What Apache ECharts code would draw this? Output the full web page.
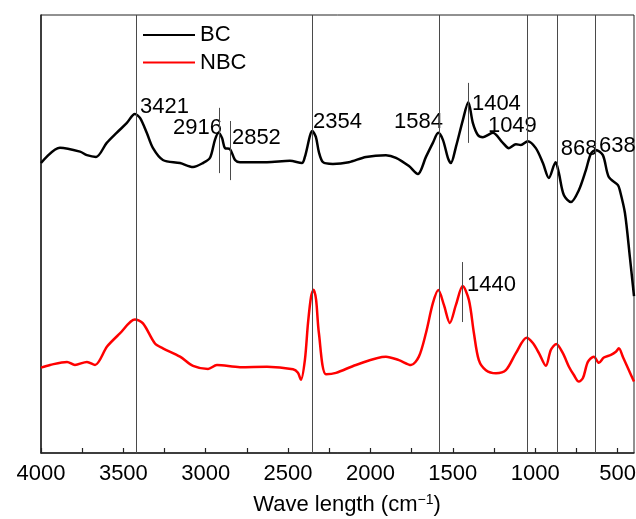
<!DOCTYPE html>
<html>
<head>
<meta charset="utf-8">
<script src="https://cdn.jsdelivr.net/npm/echarts@6/dist/echarts.min.js"></script>
<style>
  html, body { margin: 0; padding: 0; background: #fff; }
  #chart { width: 636px; height: 519px; }
</style>
</head>
<body>
<div id="chart"></div>
<script>
// FTIR spectra of BC and NBC (wavenumber in cm^-1, transmittance in arbitrary units)
const wnBC = [4000, 3885, 3763, 3721, 3666, 3601, 3541, 3480, 3430, 3399, 3358, 3320, 3260, 3156, 3077, 3017, 2974, 2944, 2922, 2901, 2883, 2853, 2822, 2792, 2628, 2489, 2416, 2398, 2352, 2331, 2313, 2288, 2228, 2131, 2027, 1906, 1845, 1766, 1712, 1663, 1621, 1588, 1560, 1530, 1512, 1481, 1439, 1406, 1378, 1348, 1317, 1257, 1196, 1160, 1117, 1087, 1045, 996, 953, 917, 876, 856, 826, 783, 735, 692, 662, 632, 589, 553, 498, 486, 455, 425, 400];
const absBC = [66.2, 69.7, 68.8, 68.0, 67.6, 70.8, 73.1, 75.3, 77.4, 76.5, 73.1, 69.6, 66.9, 66.2, 65.3, 66.2, 67.4, 71.5, 73.1, 71.9, 69.6, 69.4, 66.9, 66.4, 66.4, 66.7, 66.2, 67.6, 73.5, 72.1, 68.7, 66.4, 66.0, 66.4, 67.6, 68.0, 67.4, 65.5, 63.7, 67.6, 70.8, 73.1, 71.5, 67.4, 66.2, 69.9, 76.0, 80.1, 75.3, 72.6, 72.1, 73.1, 70.8, 69.6, 70.5, 70.3, 71.2, 69.6, 66.2, 62.8, 66.4, 63.9, 58.9, 57.3, 60.0, 64.6, 68.3, 69.2, 68.0, 63.0, 61.2, 60.0, 54.8, 44.7, 35.8];

const wnNBC = [4000, 3945, 3842, 3794, 3721, 3672, 3599, 3521, 3430, 3381, 3308, 3260, 3156, 3077, 2986, 2932, 2792, 2628, 2470, 2440, 2422, 2398, 2379, 2360, 2345, 2330, 2313, 2270, 2209, 2088, 1906, 1827, 1754, 1706, 1663, 1621, 1588, 1554, 1518, 1481, 1440, 1402, 1372, 1342, 1299, 1238, 1178, 1117, 1052, 1014, 977, 935, 905, 872, 832, 795, 765, 735, 710, 680, 644, 613, 583, 540, 510, 492, 468, 431, 400];
const absNBC = [19.5, 20.1, 20.8, 20.1, 20.8, 20.1, 24.3, 27.3, 30.5, 29.6, 25.0, 23.9, 22.0, 19.9, 19.2, 20.1, 19.6, 19.7, 19.1, 18.3, 16.7, 21.2, 29.7, 35.8, 37.3, 35.0, 27.4, 18.0, 18.3, 20.1, 22.0, 21.2, 20.1, 22.0, 27.4, 34.2, 37.2, 33.8, 29.7, 33.8, 38.1, 34.9, 27.4, 21.2, 18.9, 18.2, 18.9, 22.8, 26.3, 25.1, 22.8, 19.9, 23.5, 24.9, 22.8, 19.7, 17.8, 16.3, 17.1, 20.8, 22.0, 20.6, 21.8, 22.4, 23.1, 23.9, 22.0, 18.9, 16.3];

// Axis ticks and labels
const tickValues = [4000, 3750, 3500, 3250, 3000, 2750, 2500, 2250, 2000, 1750, 1500, 1250, 1000, 750, 500];
const labelValues = [4000, 3500, 3000, 2500, 2000, 1500, 1000, 500];

// Full-height guide lines at assigned bands
const bandLines = [3421, 2354, 1584, 1049, 868, 638];

// Short marker ticks: wavenumber, lower and upper end
const shortWn = [2916, 2852, 1404, 1440];
const shortLow = [63.9, 62.3, 70.8, 29.9];
const shortHigh = [78.8, 75.8, 84.5, 43.6];

// Band annotations: text, anchor wavenumber, anchor height
const annText = ['3421', '2916', '2852', '2354', '1584', '1404', '1049', '868', '638', '1440'];
const annWn = [3399, 3199, 2841, 2349, 1857, 1384, 1287, 845, 613, 1414];
const annY = [79.0, 74.2, 71.9, 75.6, 75.6, 79.7, 74.7, 69.4, 70.1, 38.4];

const FONT = '"Liberation Sans", Arial, sans-serif';
const FS = 22;
const GUIDE = { color: '#4a4a4a', width: 1, type: 'solid' };

const chart = echarts.init(document.getElementById('chart'), null, { renderer: 'canvas' });

const guideData = bandLines.map(v => ({ xAxis: v }))
  .concat(shortWn.map((w, i) => [{ coord: [w, shortLow[i]] }, { coord: [w, shortHigh[i]] }]));

chart.setOption({
  animation: false,
  backgroundColor: '#fff',
  textStyle: { fontFamily: FONT },
  grid: {
    left: 41, right: 2, top: 15, bottom: 66,
    outerBoundsMode: 'none',
    containLabel: false,
    show: true, borderColor: '#222', borderWidth: 1, backgroundColor: 'transparent'
  },
  legend: {
    orient: 'vertical',
    left: 137, top: 19,
    itemWidth: 52, itemHeight: 22, itemGap: 5.5,
    itemStyle: { opacity: 0 },
    textStyle: { fontFamily: FONT, fontSize: FS, color: '#000' },
    data: ['BC', 'NBC']
  },
  xAxis: {
    type: 'value',
    inverse: true,
    min: 400, max: 4000,
    name: 'Wave length (cm{sup|−1})',
    nameLocation: 'middle',
    nameGap: 40,
    nameTextStyle: {
      fontFamily: FONT, fontSize: FS, color: '#000', padding: [0, 0, 0, 19],
      rich: { sup: { fontFamily: FONT, fontSize: 14, color: '#000', verticalAlign: 'bottom', padding: [0, 0, 10, 0] } }
    },
    axisLine: { show: true, onZero: false, lineStyle: { color: '#222', width: 1.5 } },
    axisTick: { show: true, inside: true, length: 5, customValues: tickValues, lineStyle: { color: '#222', width: 1.2 } },
    axisLabel: {
      customValues: labelValues,
      formatter: v => String(v),
      fontFamily: FONT, fontSize: FS, color: '#000', margin: 10
    },
    splitLine: { show: false }
  },
  yAxis: {
    type: 'value',
    min: 0, max: 100,
    axisLine: { show: true, lineStyle: { color: '#222', width: 1.5 } },
    axisTick: { show: false },
    axisLabel: { show: false },
    splitLine: { show: false }
  },
  series: [
    {
      name: 'BC',
      type: 'line',
      data: wnBC.map((w, i) => [w, absBC[i]]),
      symbol: 'none',
      smooth: 0.3,
      lineStyle: { color: '#000', width: 2.5 },
      itemStyle: { color: '#000' },
      z: 3,
      markLine: {
        silent: true,
        symbol: ['none', 'none'],
        label: { show: false },
        lineStyle: GUIDE,
        emphasis: { disabled: true },
        data: guideData
      }
    },
    {
      name: 'NBC',
      type: 'line',
      data: wnNBC.map((w, i) => [w, absNBC[i]]),
      symbol: 'none',
      smooth: 0.3,
      lineStyle: { color: '#ff0000', width: 2.5 },
      itemStyle: { color: '#ff0000' },
      z: 3
    },
    {
      name: 'bands',
      type: 'scatter',
      symbolSize: 0,
      silent: true,
      z: 4,
      itemStyle: { opacity: 1, color: '#000' },
      data: annText.map((t, i) => ({ name: t, value: [annWn[i], annY[i]] })),
      label: {
        show: true,
        position: 'right',
        distance: 0,
        opacity: 1,
        formatter: p => p.name,
        fontFamily: FONT, fontSize: FS, color: '#000'
      }
    }
  ]
});
</script>
</body>
</html>
